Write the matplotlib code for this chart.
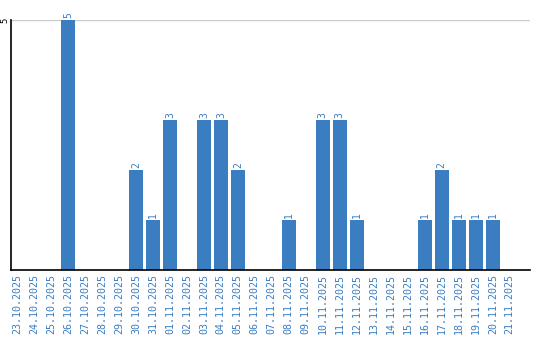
import numpy as np
import matplotlib.pyplot as plt

dates = ["23.10.2025", "24.10.2025", "25.10.2025", "26.10.2025", "27.10.2025",
         "28.10.2025", "29.10.2025", "30.10.2025", "31.10.2025", "01.11.2025",
         "02.11.2025", "03.11.2025", "04.11.2025", "05.11.2025", "06.11.2025",
         "07.11.2025", "08.11.2025", "09.11.2025", "10.11.2025", "11.11.2025",
         "12.11.2025", "13.11.2025", "14.11.2025", "15.11.2025", "16.11.2025",
         "17.11.2025", "18.11.2025", "19.11.2025", "20.11.2025", "21.11.2025"]
counts = [0, 0, 0, 5, 0, 0, 0, 2, 1, 3,
          0, 3, 3, 2, 0, 0, 1, 0, 3, 3,
          1, 0, 0, 0, 1, 2, 1, 1, 1, 0]

blue = "#3a7dc1"

fig = plt.figure(figsize=(5.4, 3.4), dpi=100)
ax = fig.add_axes([0.0204, 0.2059, 0.9607, 0.7353])

x = np.arange(len(dates))
ax.bar(x, counts, width=0.82, color=blue, zorder=2)
for i, v in enumerate(counts):
    if v > 0:
        ax.text(i, v + 0.04, str(v), rotation=90, ha="center", va="bottom",
                color=blue, fontsize=7, family="DejaVu Sans Mono", clip_on=False)

ax.set_xlim(-0.35, 30.18)
ax.set_ylim(0, 5)
ax.set_yticks([5])
ax.set_yticklabels(["5"], rotation=90, va="center", fontsize=6.5, family="DejaVu Sans Mono")
ax.set_xticks(x)
ax.set_xticklabels(dates, rotation=90, fontsize=7.2, color=blue, family="DejaVu Sans Mono")
ax.tick_params(axis="x", length=0, pad=3)
ax.tick_params(axis="y", length=0, pad=1)
ax.axhline(5, color="#cccccc", linewidth=1, zorder=1)

for s in ["top", "right"]:
    ax.spines[s].set_visible(False)
ax.spines["left"].set_color("black")
ax.spines["bottom"].set_color("black")
ax.spines["left"].set_linewidth(1.2)
ax.spines["bottom"].set_linewidth(1.2)

fig.savefig("out.png", dpi=100)
